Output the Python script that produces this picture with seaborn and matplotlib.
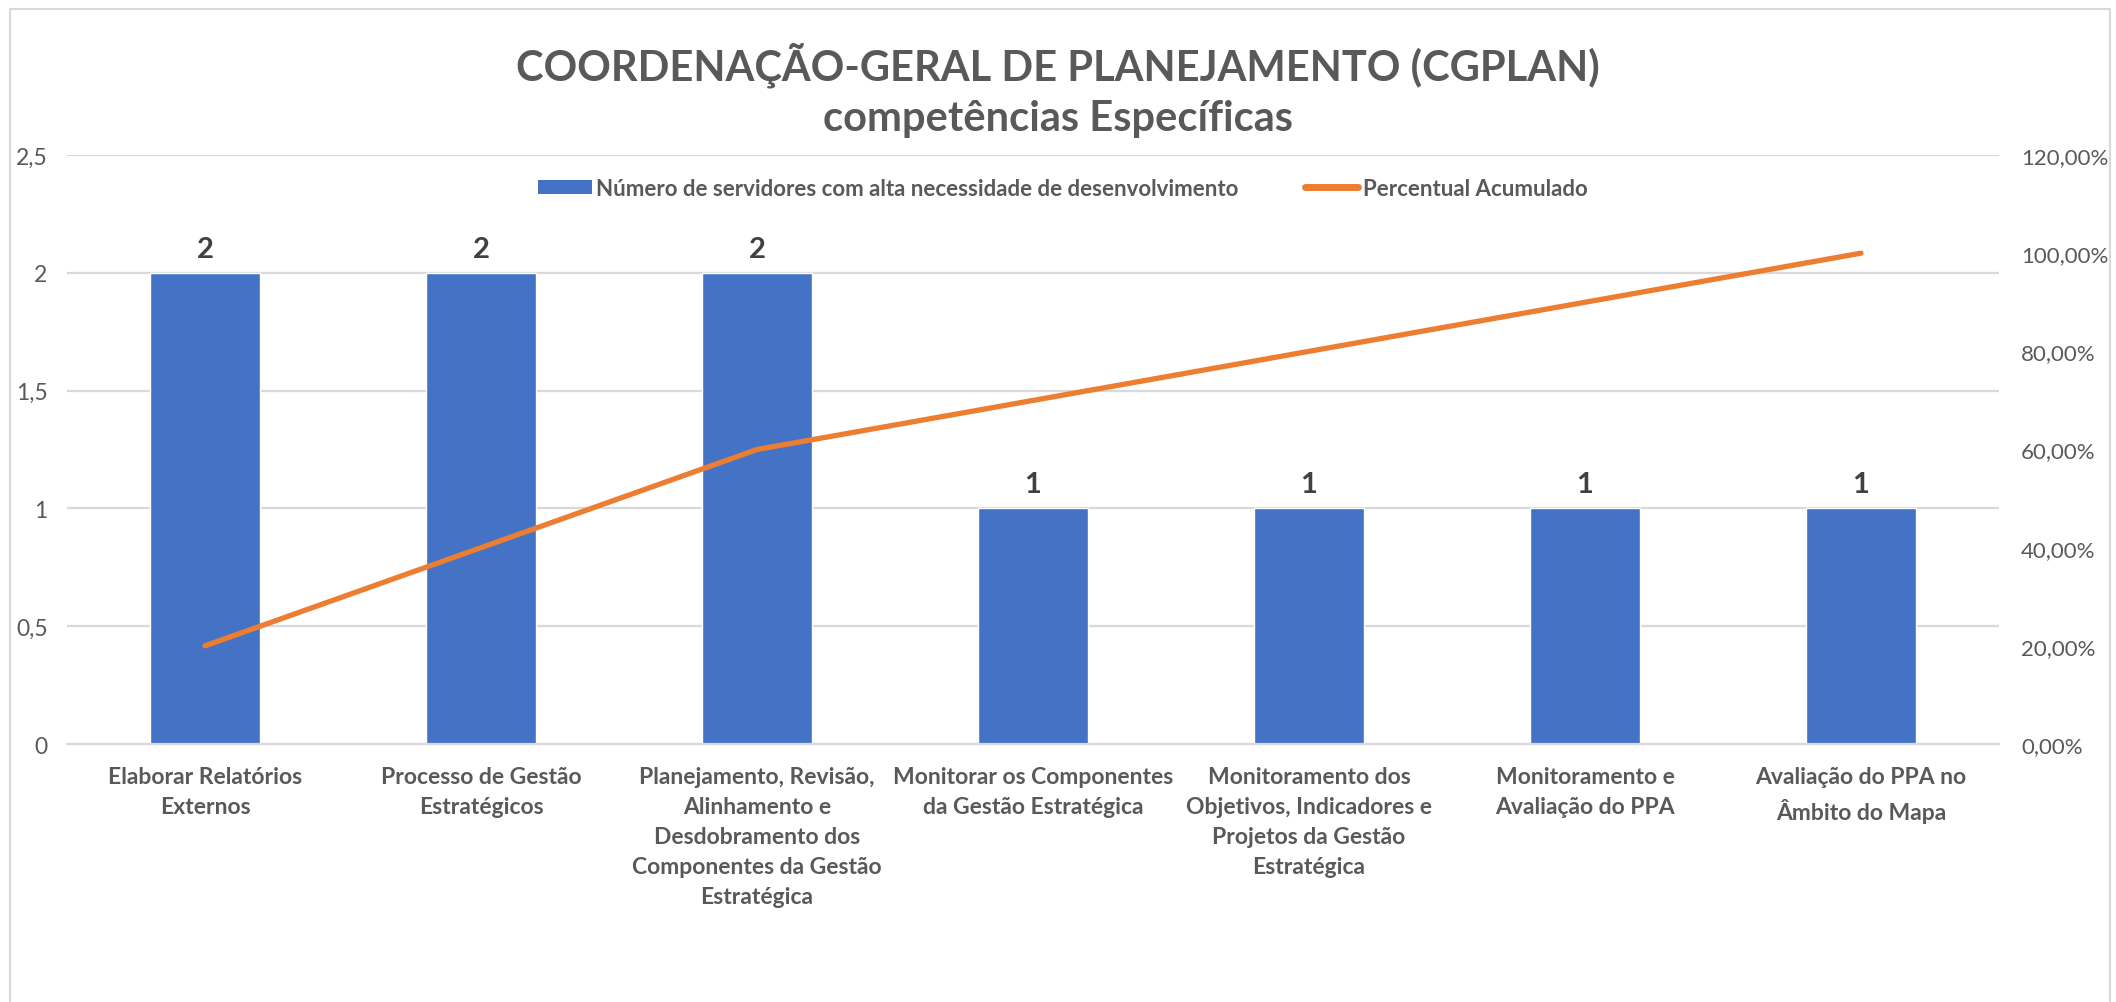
import numpy as np
import pandas as pd
import matplotlib
matplotlib.use("Agg")
import matplotlib.pyplot as plt
import seaborn as sns
from matplotlib.patches import Rectangle
from matplotlib.lines import Line2D
from matplotlib.patches import Patch
from matplotlib.ticker import FuncFormatter

categories = [
    "Elaborar Relatórios\nExternos",
    "Processo de Gestão\nEstratégicos",
    "Planejamento, Revisão,\nAlinhamento e\nDesdobramento dos\nComponentes da Gestão\nEstratégica",
    "Monitorar os Componentes\nda Gestão Estratégica",
    "Monitoramento dos\nObjetivos, Indicadores e\nProjetos da Gestão\nEstratégica",
    "Monitoramento e\nAvaliação do PPA",
    "Avaliação do PPA no\nÂmbito do Mapa",
]
servidores = [2, 2, 2, 1, 1, 1, 1]
percentual = [0.20, 0.40, 0.60, 0.70, 0.80, 0.90, 1.00]

title_1 = "COORDENAÇÃO-GERAL DE PLANEJAMENTO (CGPLAN)"
title_2 = "competências Específicas"
label_bar = "Número de servidores com alta necessidade de desenvolvimento"
label_line = "Percentual Acumulado"
left_ticks = [0, 0.5, 1, 1.5, 2, 2.5]
right_ticks = [0, 0.2, 0.4, 0.6, 0.8, 1.0, 1.2]

sns.set_theme(style="white")
FONT = ["Lato", "DejaVu Sans"]
plt.rcParams["font.family"] = FONT

BLUE = "#4472C4"
ORANGE = "#ED7D31"
GRAY = "#595959"
GRID = "#D9D9D9"

W, H = 2116, 1003
fig = plt.figure(figsize=(W / 100, H / 100), dpi=100)
fig.patch.set_facecolor("white")

ax = fig.add_axes([67 / W, 1 - 745 / H, 1932 / W, 589 / H])
df = pd.DataFrame({"cat": categories, "n": servidores})
sns.barplot(data=df, x="cat", y="n", color=BLUE, width=0.4, saturation=1, ax=ax, zorder=2)
ax.set_xlim(-0.5, len(categories) - 0.5)
ax.set_ylim(0, 2.5)
ax.set_yticks(left_ticks)
ax.yaxis.set_major_formatter(FuncFormatter(lambda v, p: (f"{v:g}").replace(".", ",")))
ax.grid(axis="y", color=GRID, lw=1.6, zorder=0)
ax.set_axisbelow(True)
for s in ["top", "right", "left"]:
    ax.spines[s].set_visible(False)
ax.spines["bottom"].set_color(GRID)
ax.spines["bottom"].set_linewidth(1.6)
ax.set_xlabel("")
ax.set_ylabel("")
ax.tick_params(axis="y", length=0, pad=14, labelsize=16.5, labelcolor=GRAY)
ax.tick_params(axis="x", length=0, pad=16)
for lab in ax.get_xticklabels():
    lab.set_fontsize(16.5)
    lab.set_fontweight("bold")
    lab.set_color(GRAY)
    lab.set_linespacing(1.52)
    lab.set_verticalalignment("top")

ax.bar_label(ax.containers[0], fmt="%d", padding=8, fontsize=21, fontweight="bold", color="#404040")

ax2 = ax.twinx()
pos = np.arange(len(categories))
sns.lineplot(x=pos, y=percentual, ax=ax2, color=ORANGE, lw=3.8, zorder=3)
ax2.lines[-1].set_solid_capstyle("round")
ax2.set_ylim(0, 1.2)
ax2.set_yticks(right_ticks)
ax2.yaxis.set_major_formatter(FuncFormatter(lambda v, p: f"{v*100:.2f}%".replace(".", ",")))
ax2.tick_params(axis="y", length=0, pad=16, labelsize=16, labelcolor=GRAY)
for s in ax2.spines.values():
    s.set_visible(False)
ax2.set_xlim(-0.5, len(categories) - 0.5)

handles = [
    Patch(facecolor=BLUE, edgecolor="none"),
    Line2D([0], [0], color=ORANGE, lw=5, solid_capstyle="round"),
]
leg = fig.legend(handles, [label_bar, label_line], loc="center",
                 bbox_to_anchor=(1063 / W, 1 - 189 / H), ncol=2, frameon=False,
                 handlelength=2.4, handleheight=0.6, handletextpad=0.2,
                 columnspacing=3.0, prop={"family": FONT, "weight": "bold", "size": 16})
for t in leg.get_texts():
    t.set_color(GRAY)

fig.text(0.5, 1 - 65 / H, title_1, ha="center", va="center", fontsize=30,
         fontweight="bold", color=GRAY)
fig.text(0.5, 1 - 119 / H, title_2, ha="center", va="center", fontsize=30,
         fontweight="bold", color=GRAY)

fig.patches.append(Rectangle((10 / W, -0.02), 2100 / W, 1.02 - 10 / H,
                             transform=fig.transFigure, fill=False,
                             edgecolor=GRID, lw=1.5))

fig.savefig("out.png", dpi=100)
